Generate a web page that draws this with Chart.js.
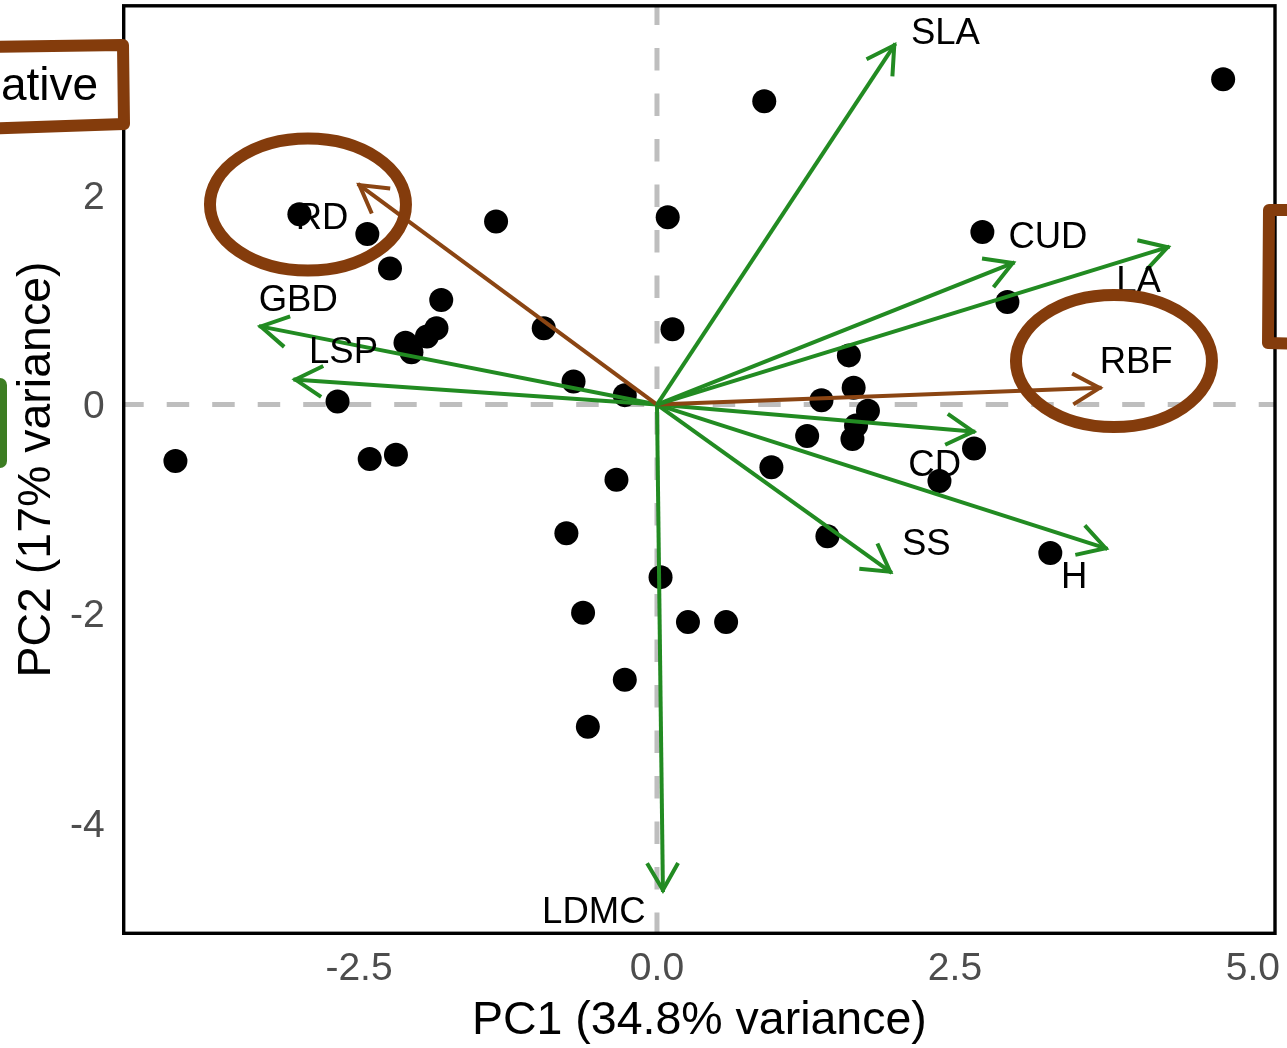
<!DOCTYPE html>
<html>
<head>
<meta charset="utf-8">
<script src="https://cdn.jsdelivr.net/npm/chart.js@4.4.1/dist/chart.umd.min.js"></script>
<style>
html,body{margin:0;padding:0;background:#fff;overflow:hidden}
canvas{display:block}
</style>
</head>
<body>
<canvas id="c" width="1287" height="1048"></canvas>
<script>
// ---- data ----
const xTicks = [-2.5, 0, 2.5, 5.0];
const yTicks = [-4, -2, 0, 2];
const xRange = [-4.474, 5.185];
const yRange = [-5.055, 3.812];
const xTitle = 'PC1 (34.8% variance)';
const yTitle = 'PC2 (17% variance)';

const scoreX = [4.75, 0.90, -3.00, -2.43, -1.35, 0.09, 2.73, -2.24, -1.81, 2.94,
                -0.95, 0.13, -1.85, -1.93, -2.11, -2.06, 1.61, -0.70, -0.27, 1.65,
                1.38, -2.68, 1.77, 1.67, 1.64, 1.26, 2.66, 2.37, 0.96, -4.04,
                -2.41, -2.19, -0.34, -0.76, 1.43, 3.30, 0.03, -0.62, 0.26, 0.58,
                -0.27, -0.58];
const scoreY = [3.11, 2.90, 1.82, 1.63, 1.75, 1.79, 1.65, 1.30, 1.00, 0.98,
                0.73, 0.72, 0.73, 0.65, 0.59, 0.50, 0.47, 0.22, 0.09, 0.16,
                0.04, 0.03, -0.06, -0.20, -0.33, -0.30, -0.42, -0.73, -0.60, -0.54,
                -0.52, -0.48, -0.72, -1.23, -1.26, -1.42, -1.65, -1.99, -2.08, -2.08,
                -2.63, -3.08];

const traitNames  = ['SLA', 'CUD', 'LA', 'RBF', 'CD', 'H', 'SS', 'LDMC', 'RD', 'GBD', 'LSP'];
const traitX      = [2.00, 3.00, 4.30, 3.73, 2.67, 3.78, 1.97, 0.05, -2.51, -3.34, -3.05];
const traitY      = [3.45, 1.36, 1.51, 0.16, -0.26, -1.38, -1.61, -4.66, 2.11, 0.75, 0.24];
const traitLabelX = [2.42, 3.28, 4.04, 4.02, 2.33, 3.50, 2.26, -0.53, -2.81, -3.01, -2.63];
const traitLabelY = [3.57, 1.62, 1.20, 0.43, -0.56, -1.63, -1.31, -4.83, 1.80, 1.02, 0.52];
const traitGroup  = ['leaf', 'leaf', 'leaf', 'root', 'leaf', 'leaf', 'leaf', 'leaf', 'root', 'leaf', 'leaf'];

// hand-drawn highlight ellipses (centres in data units)
const markCentreX = [-2.928, 3.834];
const markCentreY = [1.912, 0.416];

// ---- style ----
const FONT = '"Liberation Sans", Arial, Helvetica, sans-serif';
const groupColor = { leaf: '#228B22', root: '#8B4513' };
const inkBrown = '#843C0C';
const inkGreen = '#3C7D22';

const datasets = [];
traitNames.forEach((n, i) => {
  datasets.push({
    type: 'line',
    label: n,
    data: [{ x: 0, y: 0 }, { x: traitX[i], y: traitY[i] }],
    borderColor: groupColor[traitGroup[i]],
    borderWidth: 4,
    pointRadius: 0,
    fill: false,
    tension: 0,
    order: 1
  });
});
datasets.push({
  type: 'scatter',
  label: 'scores',
  data: scoreX.map((x, i) => ({ x, y: scoreY[i] })),
  pointRadius: 12,
  pointHoverRadius: 12,
  backgroundColor: '#000',
  borderWidth: 0,
  order: 2
});
datasets.push({
  type: 'line', label: 'h0',
  data: [{ x: xRange[0], y: 0 }, { x: xRange[1], y: 0 }],
  borderColor: '#BEBEBE', borderWidth: 5, borderDash: [22.5, 23], borderDashOffset: 2.5,
  pointRadius: 0, order: 3
});
datasets.push({
  type: 'line', label: 'v0',
  data: [{ x: 0, y: yRange[1] }, { x: 0, y: yRange[0] }],
  borderColor: '#BEBEBE', borderWidth: 5, borderDash: [22.5, 23], borderDashOffset: 3.3,
  pointRadius: 0, order: 3
});

const biplot = {
  id: 'biplot',
  afterDatasetsDraw(chart) {
    const { ctx, scales: { x, y } } = chart;
    const x0 = x.getPixelForValue(0), y0 = y.getPixelForValue(0);
    ctx.save();
    ctx.lineWidth = 4;
    ctx.lineJoin = 'miter';
    ctx.lineCap = 'butt';
    traitNames.forEach((n, i) => {
      const x1 = x.getPixelForValue(traitX[i]);
      const y1 = y.getPixelForValue(traitY[i]);
      const ang = Math.atan2(y1 - y0, x1 - x0);
      const L = 31, a = Math.PI / 6;
      const tx = x1 - 2 * Math.cos(ang), ty = y1 - 2 * Math.sin(ang);
      ctx.strokeStyle = groupColor[traitGroup[i]];
      ctx.beginPath();
      ctx.moveTo(tx - L * Math.cos(ang - a), ty - L * Math.sin(ang - a));
      ctx.lineTo(tx, ty);
      ctx.lineTo(tx - L * Math.cos(ang + a), ty - L * Math.sin(ang + a));
      ctx.stroke();
    });
    ctx.fillStyle = '#000';
    ctx.font = '36.5px ' + FONT;
    ctx.textAlign = 'center';
    ctx.textBaseline = 'alphabetic';
    traitNames.forEach((n, i) => {
      ctx.fillText(n, x.getPixelForValue(traitLabelX[i]), y.getPixelForValue(traitLabelY[i]) + 13);
    });
    ctx.restore();
  },
  afterDraw(chart) {
    const { ctx, chartArea: ca, scales: { x, y } } = chart;
    ctx.save();
    // panel frame
    ctx.strokeStyle = '#000';
    ctx.lineWidth = 3.4;
    ctx.strokeRect(ca.left, ca.top, ca.right - ca.left, ca.bottom - ca.top);

    // hand-drawn ink annotations
    ctx.strokeStyle = inkBrown;
    ctx.lineWidth = 12;
    ctx.lineJoin = 'round';
    ctx.lineCap = 'round';
    markCentreX.forEach((mx, i) => {
      ctx.beginPath();
      ctx.ellipse(x.getPixelForValue(mx), y.getPixelForValue(markCentreY[i]), 98, 66, 0, 0, Math.PI * 2);
      ctx.stroke();
    });
    // box round clipped word at top left
    ctx.beginPath();
    ctx.moveTo(-20, 47);
    ctx.lineTo(123, 45);
    ctx.lineTo(124, 124);
    ctx.lineTo(-20, 129);
    ctx.stroke();
    // bracket at right edge
    ctx.beginPath();
    ctx.moveTo(1300, 210);
    ctx.lineTo(1269, 210);
    ctx.lineTo(1268, 343);
    ctx.lineTo(1300, 344);
    ctx.stroke();
    // green mark at left edge
    ctx.fillStyle = inkGreen;
    ctx.beginPath();
    ctx.roundRect(-20, 378, 27, 90, 7);
    ctx.fill();

    ctx.fillStyle = '#000';
    ctx.font = '46px ' + FONT;
    ctx.textAlign = 'left';
    ctx.textBaseline = 'alphabetic';
    ctx.fillText('ative', 1, 100);
    ctx.restore();
  }
};

new Chart(document.getElementById('c'), {
  type: 'scatter',
  data: { datasets },
  options: {
    responsive: false,
    animation: false,
    devicePixelRatio: 1,
    events: [],
    layout: { autoPadding: false, padding: { top: 5.8, right: 12, bottom: 0, left: 0 } },
    plugins: { legend: { display: false }, tooltip: { enabled: false } },
    scales: {
      x: {
        type: 'linear',
        min: xRange[0], max: xRange[1],
        afterBuildTicks: s => { s.ticks = xTicks.map(v => ({ value: v })); },
        afterFit: s => { s.height = 114.7; s.paddingLeft = 0; s.paddingRight = 0; },
        grid: { display: false, drawTicks: false },
        border: { display: false },
        ticks: {
          color: '#4D4D4D', font: { family: FONT, size: 39 }, padding: 13,
          autoSkip: false, maxRotation: 0, minRotation: 0,
          callback: v => Number(v).toFixed(1)
        },
        title: {
          display: true, text: xTitle, color: '#000',
          font: { family: FONT, size: 46.5 }, padding: { top: 0, bottom: -1.5 }
        }
      },
      y: {
        type: 'linear',
        min: yRange[0], max: yRange[1],
        afterBuildTicks: s => { s.ticks = yTicks.map(v => ({ value: v })); },
        afterFit: s => { s.width = 123.7; s.paddingTop = 0; s.paddingBottom = 0; },
        grid: { display: false, drawTicks: false },
        border: { display: false },
        ticks: {
          color: '#4D4D4D', font: { family: FONT, size: 39 }, padding: 19,
          autoSkip: false, labelOffset: 3,
          callback: v => String(v)
        },
        title: {
          display: true, text: yTitle, color: '#000',
          font: { family: FONT, size: 46.5 }, padding: { top: 9, bottom: 0 }
        }
      }
    }
  },
  plugins: [biplot]
});
</script>
</body>
</html>
